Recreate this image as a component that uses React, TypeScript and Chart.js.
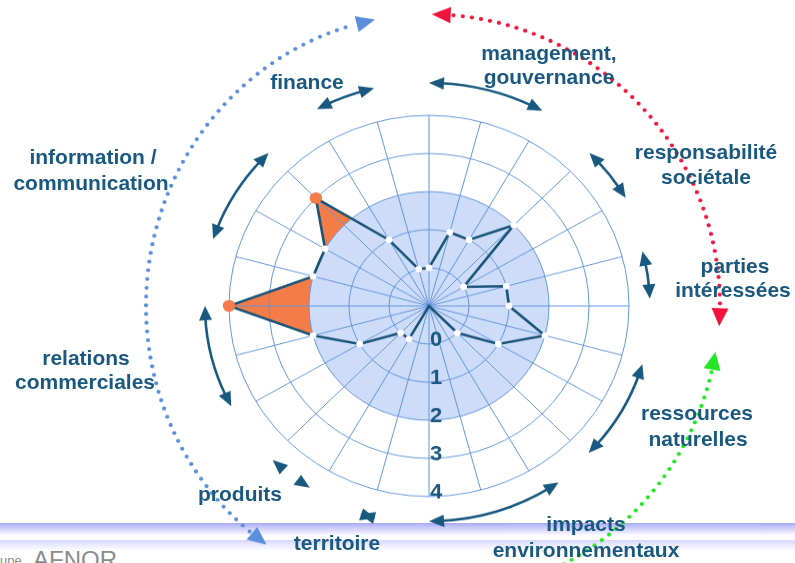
import React, { useEffect, useRef } from 'react';
import { Chart, registerables } from 'chart.js';

Chart.register(...registerables);

// ---------------- data ----------------
const CRITERIA = [
  'C1', 'C2', 'C3', 'C4', 'C5', 'C6', 'C7', 'C8', 'C9', 'C10', 'C11', 'C12',
  'C13', 'C14', 'C15', 'C16', 'C17', 'C18', 'C19', 'C20', 'C21', 'C22', 'C23', 'C24',
];
const SCORES = [0, 1, 1, 2, 0, 1, 1, 2, 1, 0, -1, -1, -1, -1, 0, 0, 1, 2, 4, 2, 2, 3, 1, 0];
const SCALE_MIN = -1;
const SCALE_MAX = 4;
const TARGET_LEVEL = 2;

const THEME_LINES = [
  'finance',
  'management,', 'gouvernance',
  'information /', 'communication',
  'responsabilité', 'sociétale',
  'parties', 'intéressées',
  'relations', 'commerciales',
  'ressources', 'naturelles',
  'produits',
  'territoire',
  'impacts', 'environnementaux',
];

// ---------------- layout / style ----------------
const S = 0.953; // vertical squash of the reference picture
const W = 795;
const H = 563;
const CH = 591; // unsquashed canvas height

// screen positions (center x, center y) of each theme line, same order as THEME_LINES
const THEME_POS: [number, number][] = [
  [307, 82],
  [549, 52], [549, 77],
  [93, 157], [91, 183],
  [706, 152], [706, 177],
  [735, 266], [733, 290],
  [86, 357], [85, 382],
  [697, 413], [698, 438],
  [240, 494],
  [337, 543],
  [586, 524], [586, 550],
];

// curved double arrows: polar (deg clockwise from top) in unsquashed coords
const ARROWS = [
  { r: 235, a0: -28.5, a1: -13.5, shaft: true },
  { r: 234, a0: 0, a1: 29, shaft: true },
  { r: 227, a0: 45, a1: 60, shaft: true },
  { r: 221, a0: 75, a1: 88, shaft: true },
  { r: 222, a0: 106, a1: 134, shaft: true },
  { r: 226, a0: 145, a1: 180, shaft: true },
  { r: 229, a0: 193.5, a1: 197.5, shaft: false },
  { r: 225, a0: 212, a1: 224, shaft: false },
  { r: 224, a0: 242, a1: 270, shaft: true },
  { r: 227, a0: 288, a1: 315, shaft: true },
];

const DOTTED = [
  { color: '#5b8fdc', rx: 283, ry: 306, t0: 215, t1: 349, headStart: true, headEnd: true },
  { color: '#f0143c', rx: 291, ry: 306, t0: 0.5, t1: 94, headStart: true, headEnd: true },
  { color: '#22e622', rx: 290, ry: 306, t0: 99, t1: 158, headStart: true, headEnd: false },
];

const TEXT_BLUE = '#19587f';
const LINE_BLUE = '#1a5478';
const GRID_BLUE = '#6496dc';
const DISK_BLUE = '#cddcf8';
const ORANGE = '#f47c48';

function polar(cx: number, cy: number, r: number, deg: number): [number, number] {
  const a = ((deg - 90) * Math.PI) / 180;
  return [cx + r * Math.cos(a), cy + r * Math.sin(a)];
}

function arcHead(ctx: CanvasRenderingContext2D, cx: number, cy: number, r: number, tipDeg: number, dir: number, len: number, wid: number) {
  const baseDeg = tipDeg - dir * (len / r) * (180 / Math.PI);
  const tip = polar(cx, cy, r, tipDeg);
  const b1 = polar(cx, cy, r + wid / 2, baseDeg);
  const b2 = polar(cx, cy, r - wid / 2, baseDeg);
  ctx.beginPath();
  ctx.moveTo(tip[0], tip[1]);
  ctx.lineTo(b1[0], b1[1]);
  ctx.lineTo(b2[0], b2[1]);
  ctx.closePath();
  ctx.fill();
}

function drawArcArrow(ctx: CanvasRenderingContext2D, cx: number, cy: number, a: { r: number; a0: number; a1: number; shaft: boolean }) {
  const len = 15;
  const wid = 13;
  const dDeg = ((len * 0.7) / a.r) * (180 / Math.PI);
  ctx.fillStyle = TEXT_BLUE;
  ctx.strokeStyle = TEXT_BLUE;
  ctx.lineWidth = 2.6;
  if (a.shaft && a.a1 - a.a0 > 2 * dDeg) {
    ctx.beginPath();
    ctx.arc(cx, cy, a.r, ((a.a0 + dDeg - 90) * Math.PI) / 180, ((a.a1 - dDeg - 90) * Math.PI) / 180);
    ctx.stroke();
  }
  arcHead(ctx, cx, cy, a.r, a.a0, -1, len, wid);
  arcHead(ctx, cx, cy, a.r, a.a1, 1, len, wid);
}

function drawDottedArc(ctx: CanvasRenderingContext2D, cx: number, cy: number, d: typeof DOTTED[number]) {
  const N = 3000;
  const pts: [number, number][] = [];
  const cum: number[] = [];
  for (let i = 0; i <= N; i++) {
    const t = ((d.t0 + ((d.t1 - d.t0) * i) / N) * Math.PI) / 180;
    const p: [number, number] = [cx + d.rx * Math.sin(t), cy - d.ry * Math.cos(t)];
    if (i === 0) cum.push(0);
    else {
      const q = pts[i - 1];
      cum.push(cum[i - 1] + Math.hypot(p[0] - q[0], p[1] - q[1]));
    }
    pts.push(p);
  }
  const L = cum[N];
  const at = (s: number): [number, number] => {
    let lo = 0, hi = N;
    while (hi - lo > 1) {
      const m = (lo + hi) >> 1;
      if (cum[m] < s) lo = m; else hi = m;
    }
    return pts[hi];
  };
  const hl = 19, hw = 17, sp = 9.2, dr = 2.1;
  ctx.fillStyle = d.color;
  const sStart = d.headStart ? hl + 3 : 0;
  const sEnd = d.headEnd ? L - hl - 3 : L;
  for (let s = sStart; s <= sEnd; s += sp) {
    const p = at(s);
    ctx.beginPath();
    ctx.arc(p[0], p[1], dr, 0, Math.PI * 2);
    ctx.fill();
  }
  const head = (tip: [number, number], base: [number, number]) => {
    const dx = tip[0] - base[0], dy = tip[1] - base[1];
    const l = Math.hypot(dx, dy);
    const nx = -dy / l, ny = dx / l;
    ctx.beginPath();
    ctx.moveTo(tip[0], tip[1]);
    ctx.lineTo(base[0] + (nx * hw) / 2, base[1] + (ny * hw) / 2);
    ctx.lineTo(base[0] - (nx * hw) / 2, base[1] - (ny * hw) / 2);
    ctx.closePath();
    ctx.fill();
  };
  if (d.headStart) head(at(0), at(hl));
  if (d.headEnd) head(at(L), at(L - hl));
}

const decorPlugin = {
  id: 'decor',
  beforeDraw(chart: any) {
    const ctx: CanvasRenderingContext2D = chart.ctx;
    const scale = chart.scales.r;
    const cx = scale.xCenter;
    const cy = scale.yCenter;
    const rT = scale.getDistanceFromCenterForValue(TARGET_LEVEL);
    ctx.save();
    ctx.fillStyle = DISK_BLUE;
    ctx.beginPath();
    ctx.arc(cx, cy, rT, 0, Math.PI * 2);
    ctx.fill();
    // part of the profile beyond the target level
    const pts = chart.getDatasetMeta(0).data;
    ctx.beginPath();
    pts.forEach((p: any, i: number) => (i ? ctx.lineTo(p.x, p.y) : ctx.moveTo(p.x, p.y)));
    ctx.closePath();
    ctx.clip();
    ctx.beginPath();
    ctx.rect(0, 0, chart.width, chart.height);
    ctx.arc(cx, cy, rT, 0, Math.PI * 2);
    ctx.fillStyle = ORANGE;
    ctx.fill('evenodd');
    ctx.restore();

    ctx.save();
    ARROWS.forEach((a) => drawArcArrow(ctx, cx, cy, a));
    DOTTED.forEach((d) => drawDottedArc(ctx, cx, cy, d));
    ctx.restore();
  },
  afterDraw(chart: any) {
    const ctx: CanvasRenderingContext2D = chart.ctx;
    const scale = chart.scales.r;
    ctx.save();
    ctx.font = 'bold 22px "Liberation Sans", Arial, sans-serif';
    ctx.fillStyle = TEXT_BLUE;
    ctx.textAlign = 'left';
    ctx.textBaseline = 'middle';
    scale.ticks.forEach((t: any) => {
      if (t.value < 0) return;
      const d = scale.getDistanceFromCenterForValue(t.value);
      ctx.fillText(String(t.label), scale.xCenter + 1, scale.yCenter + d - 4);
    });
    ctx.restore();
  },
};

export default function App() {
  const ref = useRef<HTMLCanvasElement | null>(null);
  useEffect(() => {
    document.body.style.margin = '0';
    const canvas = ref.current!;
    const chart = new Chart(canvas, {
      type: 'radar',
      data: {
        labels: CRITERIA,
        datasets: [
          {
            data: SCORES,
            borderColor: LINE_BLUE,
            borderWidth: 2.6,
            fill: false,
            tension: 0,
            pointRadius: (c: any) => {
              const v = c.raw as number;
              if (v > TARGET_LEVEL) return 6.2;
              if (v <= SCALE_MIN) return 0;
              return 3.4;
            },
            pointBackgroundColor: (c: any) => ((c.raw as number) > TARGET_LEVEL ? ORANGE : '#ffffff'),
            pointBorderWidth: 0,
            pointHoverRadius: 0,
          } as any,
        ],
      },
      options: {
        responsive: false,
        maintainAspectRatio: false,
        animation: false,
        events: [],
        layout: { padding: { left: 229, right: 166, top: 121, bottom: CH - 121 - 400 } },
        plugins: { legend: { display: false }, tooltip: { enabled: false } },
        scales: {
          r: {
            min: SCALE_MIN,
            max: SCALE_MAX,
            ticks: { stepSize: 1, display: false },
            pointLabels: { display: false },
            grid: { circular: true, color: GRID_BLUE, lineWidth: 1 },
            angleLines: { color: GRID_BLUE, lineWidth: 1 },
          },
        },
      } as any,
      plugins: [decorPlugin],
    });
    return () => chart.destroy();
  }, []);

  const font = 'bold 21px "Liberation Sans", Arial, sans-serif';
  return (
    <div style={{ position: 'absolute', left: 0, top: 0, width: W, height: H, overflow: 'hidden', background: '#fff' }}>
      <div
        style={{
          position: 'absolute', left: 0, top: 523, width: W, height: 13,
          background: 'linear-gradient(to bottom, #a9a9f6 0%, #c9c9fa 35%, #eeeeff 80%, #ffffff 100%)',
        }}
      />
      <div
        style={{
          position: 'absolute', left: 0, top: 540, width: W, height: 11,
          background: 'linear-gradient(to bottom, #d6d6fb 0%, #ececfe 50%, #ffffff 100%)',
        }}
      />
      <div style={{ position: 'absolute', left: 0, top: 553, font: '13px "Liberation Sans", Arial, sans-serif', color: '#8c8c8c' }}>upe</div>
      <div style={{ position: 'absolute', left: 33, top: 546, font: '24px "Liberation Sans", Arial, sans-serif', color: '#8c8c8c' }}>AFNOR</div>
      <div
        style={{
          position: 'absolute', left: 0, top: 0, width: W, height: CH,
          transform: `scaleY(${S})`, transformOrigin: '0 0',
        }}
      >
        <canvas ref={ref} width={W} height={CH} style={{ display: 'block', width: W, height: CH }} />
        {THEME_LINES.map((t, i) => (
          <div
            key={i}
            style={{
              position: 'absolute',
              left: THEME_POS[i][0],
              top: THEME_POS[i][1] / S,
              transform: 'translate(-50%, -50%)',
              font,
              lineHeight: 1,
              color: TEXT_BLUE,
              whiteSpace: 'nowrap',
            }}
          >
            {t}
          </div>
        ))}
      </div>
    </div>
  );
}
